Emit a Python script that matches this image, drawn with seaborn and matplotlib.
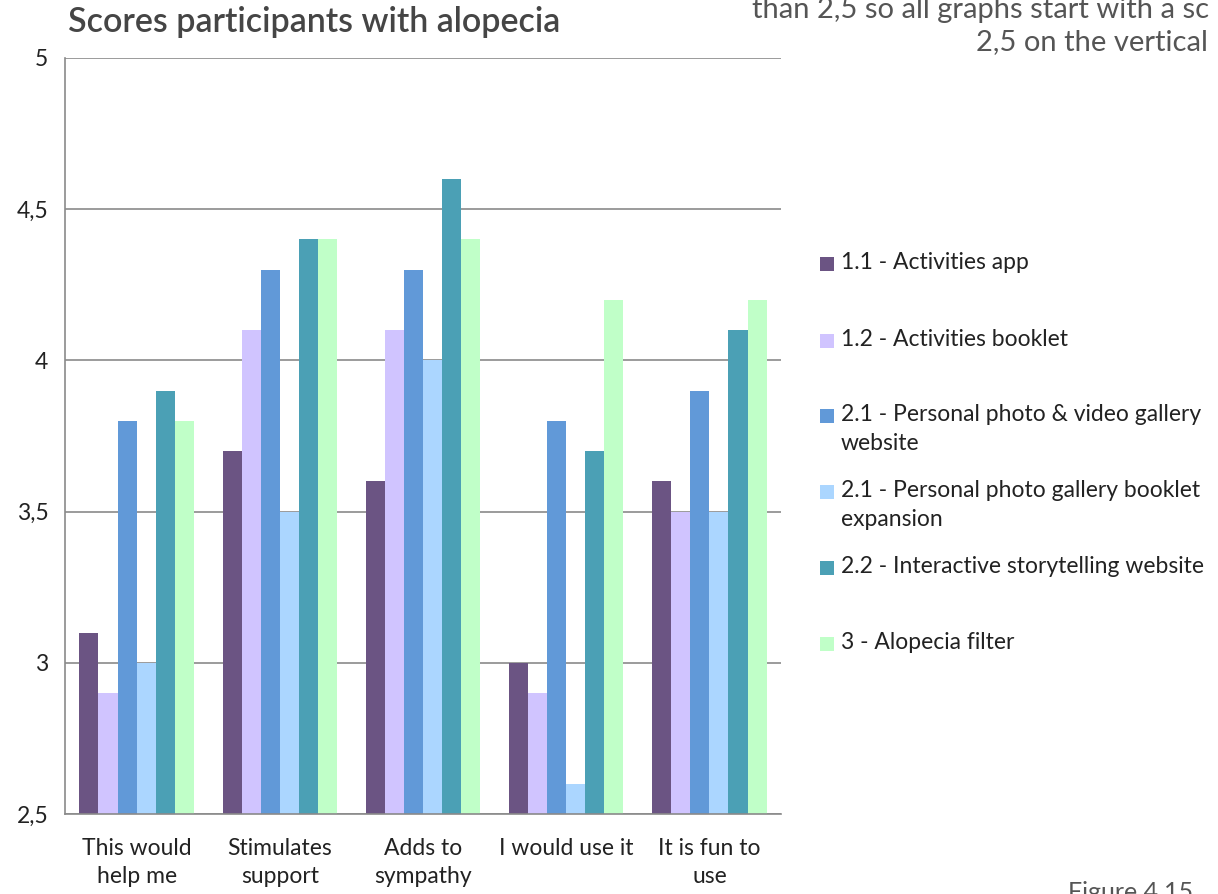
import matplotlib
matplotlib.use("Agg")
import matplotlib.pyplot as plt
import seaborn as sns
import pandas as pd
import numpy as np
from matplotlib.patches import Rectangle
from matplotlib.ticker import FixedLocator

categories = ["This would\nhelp me", "Stimulates\nsupport", "Adds to\nsympathy",
              "I would use it", "It is fun to\nuse"]
series_names = ["1.1 - Activities app", "1.2 - Activities booklet",
                "2.1 - Personal photo & video gallery\nwebsite",
                "2.1 - Personal photo gallery booklet\nexpansion",
                "2.2 - Interactive storytelling website",
                "3 - Alopecia filter"]
activities_app = [3.1, 3.7, 3.6, 3.0, 3.6]
activities_booklet = [2.9, 4.1, 4.1, 2.9, 3.5]
photo_video_website = [3.8, 4.3, 4.3, 3.8, 3.9]
photo_booklet_expansion = [3.0, 3.5, 4.0, 2.6, 3.5]
storytelling_website = [3.9, 4.4, 4.6, 3.7, 4.1]
alopecia_filter = [3.8, 4.4, 4.4, 4.2, 4.2]
ytick_values = [2.5, 3.0, 3.5, 4.0, 4.5, 5.0]
ytick_labels = ["2,5", "3", "3,5", "4", "4,5", "5"]
colors = ["#6B5483", "#D0C4FF", "#6199D8", "#ABD6FF", "#4BA0B5", "#C0FFC8"]

all_series = [activities_app, activities_booklet, photo_video_website,
              photo_booklet_expansion, storytelling_website, alopecia_filter]
rows = []
for name, vals in zip(series_names, all_series):
    for cat, v in zip(categories, vals):
        rows.append({"category": cat, "series": name, "score": v})
df = pd.DataFrame(rows)

sns.set_style("white")
plt.rcParams["font.family"] = ["Lato", "DejaVu Sans"]

W, H = 1218, 894
fig = plt.figure(figsize=(W / 100, H / 100), dpi=100)
ax = fig.add_axes([65 / W, 1 - 814 / H, (781 - 65) / W, (814 - 58) / H])

sns.barplot(data=df, x="category", y="score", hue="series",
            hue_order=series_names, order=categories, palette=colors,
            saturation=1, width=0.8, linewidth=0, legend=False, ax=ax,
            errorbar=None)

ax.set_ylim(2.5, 5)
ax.set_xlim(-0.5, len(categories) - 0.5)
ax.set_yticks(ytick_values)
ax.set_yticklabels(ytick_labels)
ax.yaxis.grid(True, color="#8A8A8A", linewidth=1.2)
ax.set_axisbelow(True)
ax.set_xlabel("")
ax.set_ylabel("")
for s in ["top", "right"]:
    ax.spines[s].set_visible(False)
for s in ["left", "bottom"]:
    ax.spines[s].set_color("#8A8A8A")
    ax.spines[s].set_linewidth(1.2)
ax.tick_params(axis="y", length=7, width=1.2, color="#8A8A8A",
               labelsize=16.5, labelcolor="#222222", pad=5)
ax.tick_params(axis="x", which="major", length=0, labelsize=16.5,
               labelcolor="#222222", pad=17)
ax.xaxis.set_minor_locator(FixedLocator(np.arange(-0.5, len(categories), 1.0)))
ax.tick_params(axis="x", which="minor", length=8, width=1.2, color="#8A8A8A")
for lbl in ax.get_xticklabels():
    lbl.set_linespacing(1.45)

# title and surrounding page text
fig.text(68 / W, 1 - 22 / H, "Scores participants with alopecia", fontsize=24.5,
         fontweight="semibold", color="#454545", va="center", ha="left")
fig.text(752 / W, 1 - 10 / H, "than 2,5 so all graphs start with a sc",
         fontsize=21, color="#555555", va="center", ha="left")
fig.text(1208 / W, 1 - 42 / H, "2,5 on the vertical",
         fontsize=21, color="#555555", va="center", ha="right")
fig.text(1068 / W, 1 - 881 / H, "Figure 4.15", fontsize=18, color="#555555",
         va="top", ha="left")

# legend
entry_y = [264, 341, 416, 492, 568, 644]
for name, col, yc in zip(series_names, colors, entry_y):
    fig.patches.append(Rectangle((820 / W, 1 - (yc + 7) / H), 14 / W, 14 / H,
                                 transform=fig.transFigure, facecolor=col,
                                 edgecolor="none"))
    fig.text(841 / W, 1 - (yc - 12) / H, name, fontsize=16.5, color="#222222",
             va="top", ha="left", linespacing=1.45)

fig.savefig("out.png", dpi=100, facecolor="white")
